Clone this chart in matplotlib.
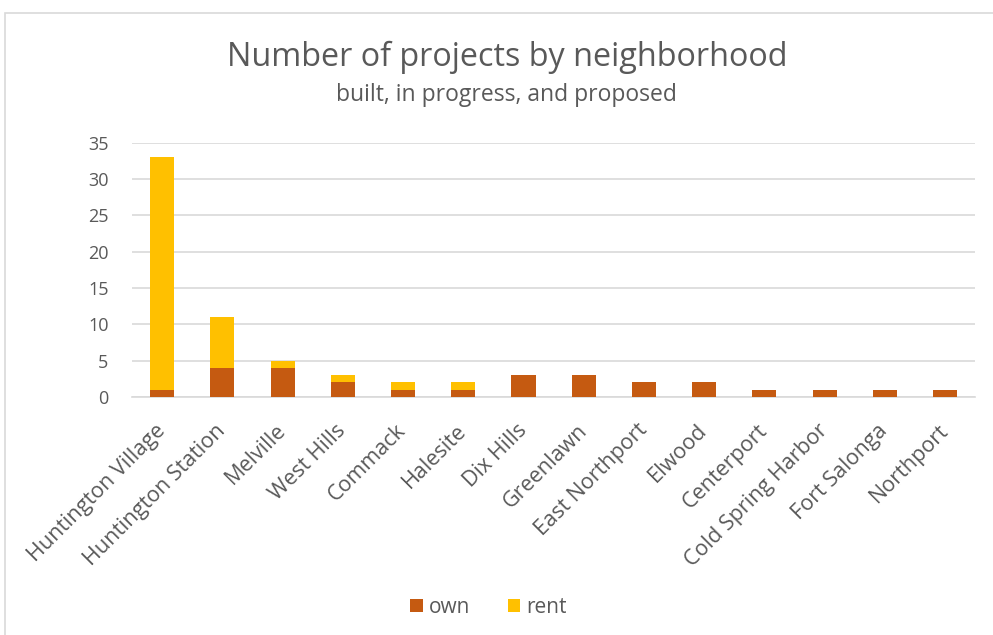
import matplotlib.pyplot as plt
from matplotlib.patches import Rectangle
import numpy as np

neighborhoods = ["Huntington Village", "Huntington Station", "Melville", "West Hills",
                 "Commack", "Halesite", "Dix Hills", "Greenlawn", "East Northport",
                 "Elwood", "Centerport", "Cold Spring Harbor", "Fort Salonga", "Northport"]
own = [1, 4, 4, 2, 1, 1, 3, 3, 2, 2, 1, 1, 1, 1]
rent = [32, 7, 1, 1, 1, 1, 0, 0, 0, 0, 0, 0, 0, 0]

plt.rcParams['font.family'] = ['Open Sans', 'DejaVu Sans']
text_color = '#595959'

fig = plt.figure(figsize=(9.93, 6.35), dpi=100)
ax = fig.add_axes([0.133, 0.375, 0.849, 0.40])

x = np.arange(len(neighborhoods))
ax.bar(x, own, width=0.4, color='#C55A11', label='own', zorder=3)
ax.bar(x, rent, width=0.4, bottom=own, color='#FFC000', label='rent', zorder=3)

ax.set_xlim(-0.5, len(neighborhoods) - 0.5)
ax.set_ylim(0, 35)
ax.set_yticks(range(0, 36, 5))
ax.yaxis.grid(True, color='#D9D9D9', linewidth=1.2, zorder=0)
ax.set_axisbelow(True)
for s in ['top', 'right', 'left']:
    ax.spines[s].set_visible(False)
ax.spines['bottom'].set_color('#D9D9D9')
ax.spines['bottom'].set_linewidth(1.2)
ax.tick_params(axis='both', length=0, colors=text_color)
ax.tick_params(axis='y', pad=17, labelsize=13)
ax.tick_params(axis='x', pad=22, labelsize=15.5)
ax.set_xticks(x)
ax.set_xticklabels(neighborhoods, rotation=45, ha='right', va='center',
                   rotation_mode='anchor')

fig.text(0.511, 0.91, "Number of projects by neighborhood", ha='center', va='center',
         fontsize=23.3, color=text_color)
fig.text(0.51, 0.85, "built, in progress, and proposed", ha='center', va='center',
         fontsize=16.5, color=text_color)

fig.legend(loc='center', bbox_to_anchor=(0.492, 0.043), ncol=2, frameon=False,
           fontsize=15, labelcolor=text_color, handlelength=0.6, handleheight=0.6,
           handletextpad=0.3, columnspacing=1.8)

fig.patches.append(Rectangle((0.005, -0.1), 1.2, 1.08, transform=fig.transFigure,
                             fill=False, edgecolor='#D9D9D9', linewidth=1.2))

fig.savefig('out.png', dpi=100)
